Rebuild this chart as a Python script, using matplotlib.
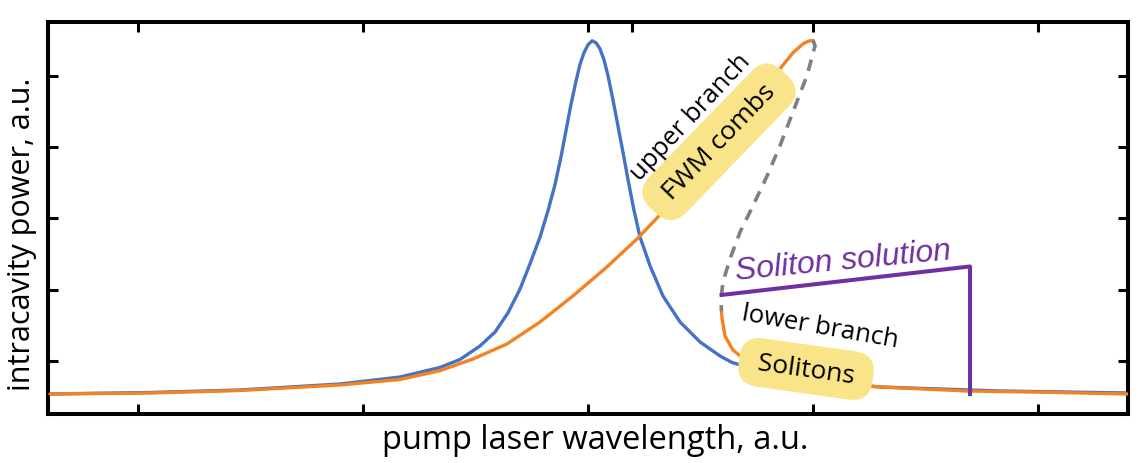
import matplotlib
matplotlib.use("Agg")
import matplotlib.pyplot as plt

# cold-cavity resonance (blue)
blue_x = [0.609, 1.053, 1.453, 1.898, 2.164, 2.342, 2.431, 2.520, 2.587, 2.644,
          2.698, 2.742, 2.787, 2.822, 2.853, 2.880, 2.902, 2.924, 2.947, 2.964,
          2.982, 3.000, 3.018, 3.036, 3.053, 3.071, 3.089, 3.111, 3.133, 3.156,
          3.178, 3.204, 3.231, 3.276, 3.333, 3.409, 3.498, 3.587, 3.640, 3.853,
          4.298, 4.831, 5.400]
blue_y = [0.537, 0.558, 0.593, 0.677, 0.775, 0.909, 1.021, 1.211, 1.407, 1.674,
          2.011, 2.362, 2.742, 3.107, 3.472, 3.865, 4.230, 4.596, 4.933, 5.157,
          5.326, 5.438, 5.494, 5.466, 5.382, 5.228, 5.003, 4.666, 4.301, 3.921,
          3.542, 3.121, 2.742, 2.334, 1.913, 1.548, 1.267, 1.070, 0.979, 0.775,
          0.635, 0.579, 0.551]

# Kerr-tilted resonance: upper branch (orange)
upper_x = [0.609, 1.053, 1.453, 1.898, 2.164, 2.342, 2.489, 2.640, 2.787, 2.933,
           3.084, 3.218, 3.311, 3.587, 3.853, 3.911, 3.956, 3.978, 4.000]
upper_y = [0.537, 0.551, 0.586, 0.663, 0.740, 0.864, 1.028, 1.239, 1.548, 1.913,
           2.320, 2.713, 3.022, 4.076, 5.101, 5.326, 5.452, 5.487, 5.501]

# unstable middle branch (gray dashed)
middle_x = [4.000, 4.009, 3.973, 3.911, 3.853, 3.796, 3.733, 3.676, 3.631, 3.600,
            3.591, 3.593]
middle_y = [5.501, 5.424, 5.003, 4.497, 4.020, 3.598, 3.177, 2.812, 2.433, 2.110,
            1.871, 1.702]

# lower branch (orange)
lower_x = [3.593, 3.596, 3.609, 3.644, 3.720, 3.853, 4.076, 4.298, 4.684, 4.978, 5.400]
lower_y = [1.702, 1.590, 1.351, 1.154, 0.958, 0.803, 0.691, 0.635, 0.579, 0.565, 0.537]

# soliton solution marker (purple)
soliton_x = [3.594, 4.698, 4.698]
soliton_y = [1.927, 2.327, 0.537]

x_ticks = [1, 2, 3, 4, 5]
x_ticks_top = [1, 2, 3, 3.196, 4, 5]
y_ticks = [1, 2, 3, 4, 5]

BLUE = "#4472C4"
ORANGE = "#F58220"
GRAY = "#808080"
PURPLE = "#7030A0"
YELLOW = "#FAE48A"
FONT = "Open Sans"

fig = plt.figure(figsize=(11.48, 4.64), dpi=100)
ax = fig.add_axes([48 / 1148, 1 - 415 / 464, 1080 / 1148, 392 / 464])

ax.plot(blue_x, blue_y, color=BLUE, lw=2.4, zorder=2, solid_capstyle="round",
        solid_joinstyle="round")
ax.plot(upper_x, upper_y, color=ORANGE, lw=2.4, zorder=3, solid_capstyle="round",
        solid_joinstyle="round")
ax.plot(lower_x, lower_y, color=ORANGE, lw=2.4, zorder=3, solid_capstyle="round",
        solid_joinstyle="round")
ax.plot(middle_x, middle_y, color=GRAY, lw=2.6, ls=(0, (3.2, 2.4)), zorder=3)
ax.plot(soliton_x, soliton_y, color=PURPLE, lw=2.9, zorder=6)

ax.set_xlim(0.6, 5.4)
ax.set_ylim(0.256, 5.758)
ax.set_xticks(x_ticks)
ax.set_yticks(y_ticks)
ax.tick_params(direction="in", length=7.5, width=2.2, labelbottom=False,
               labelleft=False, right=True)
for s in ax.spines.values():
    s.set_linewidth(2.9)

ax_top = ax.twiny()
ax_top.set_xlim(ax.get_xlim())
ax_top.set_xticks(x_ticks_top)
ax_top.tick_params(direction="in", length=7.5, width=2.2, labeltop=False)
for s in ax_top.spines.values():
    s.set_visible(False)

ax.set_xlabel("pump laser wavelength, a.u.", fontsize=23.5, family=FONT)
ax.xaxis.set_label_coords(0.507, -0.064)
ax.xaxis.label.set_va("center")
ax.set_ylabel("intracavity power, a.u.", fontsize=22, family=FONT)
ax.yaxis.set_label_coords(-0.024, 0.46)
ax.yaxis.label.set_va("center")

ax.text(3.458, 4.427, "upper branch", rotation=47, fontsize=18.5, family=FONT,
        ha="center", va="center", rotation_mode="anchor", zorder=5)
ax.text(3.582, 4.076, " FWM combs ", rotation=46, fontsize=19, family=FONT,
        ha="center", va="center", rotation_mode="anchor", zorder=5,
        bbox=dict(boxstyle="round,pad=0.5,rounding_size=0.85", fc=YELLOW, ec="none"))
ax.text(4.031, 1.492, "lower branch", rotation=-10, fontsize=18.5, family=FONT,
        ha="center", va="center", rotation_mode="anchor", zorder=5)
ax.text(3.969, 0.888, " Solitons ", rotation=-8, fontsize=19, family=FONT,
        ha="center", va="center", rotation_mode="anchor", zorder=5,
        bbox=dict(boxstyle="round,pad=0.45,rounding_size=0.8", fc=YELLOW, ec="none"))
ax.text(4.133, 2.404, "Soliton solution", rotation=5.5, fontsize=23, style="italic",
        family="Liberation Sans", color=PURPLE, ha="center", va="center",
        rotation_mode="anchor", zorder=5)

plt.savefig("out.png", dpi=100)
